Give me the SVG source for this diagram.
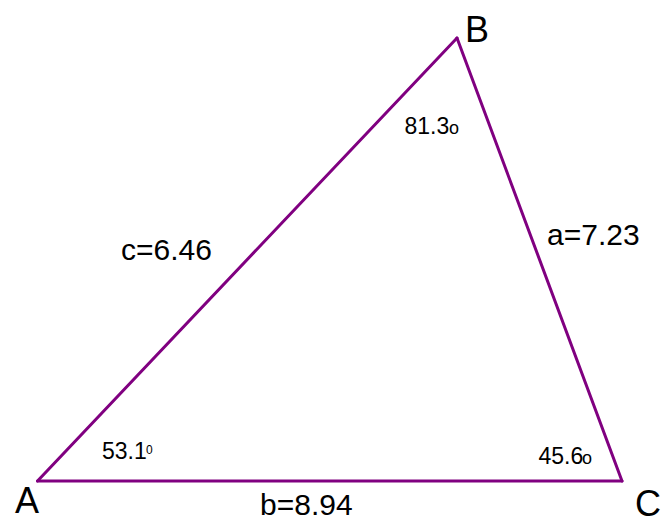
<svg xmlns="http://www.w3.org/2000/svg" width="664" height="520" viewBox="0 0 664 520">
<style>
.side{stroke:#800080;stroke-width:3;fill:none;stroke-linecap:round}
text{font-family:"Liberation Sans",Arial,sans-serif;fill:#000}
.vx{font-size:36px}
.len{font-size:30px}
.ang{font-size:23px}
.sup0{font-size:12px}
.supo{font-size:18px}
</style>
<rect width="664" height="520" fill="#fff"/>
<g id="connectors">
<line id="side-c" class="side" x1="37.5" y1="481" x2="457" y2="38"/>
<line id="side-a" class="side" x1="457" y1="38" x2="622" y2="481"/>
<line id="side-b" class="side" x1="37.5" y1="481" x2="622" y2="481"/>
<text class="len" x="121" y="260">c=6.46</text>
<text class="len" x="547" y="245">a=7.23</text>
<text class="len" x="260" y="515">b=8.94</text>
</g>
<g id="node-A">
<text class="vx" x="15" y="512.5">A</text>
<text class="ang" x="102" y="458.5">53.1</text>
<text class="sup0" x="146" y="454.3">0</text>
</g>
<g id="node-B">
<text class="vx" x="465" y="41.5">B</text>
<text class="ang" x="404.5" y="134">81.3</text>
<text class="supo" x="449" y="134">o</text>
</g>
<g id="node-C">
<text class="vx" x="635" y="516" font-size="35">C</text>
<text class="ang" x="538.5" y="464.3">45.6</text>
<text class="supo" x="582" y="464.3">o</text>
</g>
</svg>
